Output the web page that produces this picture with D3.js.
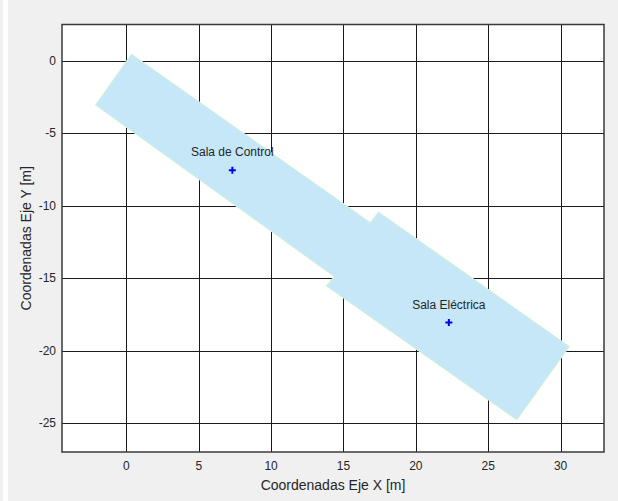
<!DOCTYPE html>
<meta charset="utf-8">
<html>
<head>
  <script src="https://d3js.org/d3.v7.min.js"></script>
  <style>
    body { margin: 0; background: #f0f0f0; }
    svg text { font-family: "Liberation Sans", Arial, Helvetica, sans-serif; fill: #262626; }
  </style>
</head>
<body>
  <div id="chart"></div>
  <script>
    // building outline (metres)
    var outlineX = [0.35, 16.85, 17.42, 30.61, 26.98, 13.81, 14.34, -2.14];
    var outlineY = [0.46, -11.16, -10.43, -19.72, -24.79, -15.54, -14.89, -3.06];

    // rooms
    var roomNames = ["Sala de Control", "Sala Eléctrica"];
    var roomX = [7.32, 22.28];
    var roomY = [-7.55, -18.07];

    var xTicks = [0, 5, 10, 15, 20, 25, 30];
    var yTicks = [-25, -20, -15, -10, -5, 0];

    var W = 618, H = 501;
    var margin = { top: 24.5, right: 14, bottom: 49, left: 62 };

    var svg = d3.select("#chart")
      .append("svg")
      .attr("width", W)
      .attr("height", H);

    svg.append("rect")
      .attr("width", W).attr("height", H)
      .attr("fill", "#f0f0f0");
    svg.append("rect")
      .attr("x", 3).attr("width", 5).attr("height", H)
      .attr("fill", "#ffffff");

    var x = d3.scaleLinear()
      .domain([-4.45, 33])
      .range([margin.left, W - margin.right]);
    var y = d3.scaleLinear()
      .domain([-27, 2.5])
      .range([H - margin.bottom, margin.top]);

    svg.append("rect")
      .attr("x", x(-4.45)).attr("y", y(2.5))
      .attr("width", x(33) - x(-4.45))
      .attr("height", y(-27) - y(2.5))
      .attr("fill", "#ffffff");

    // grid
    svg.append("g")
      .selectAll("line")
      .data(xTicks)
      .join("line")
      .attr("x1", d => Math.round(x(d)) + 0.5).attr("x2", d => Math.round(x(d)) + 0.5)
      .attr("y1", y(-27)).attr("y2", y(2.5))
      .attr("stroke", "#1a1a1a").attr("stroke-width", 1);
    svg.append("g")
      .selectAll("line")
      .data(yTicks)
      .join("line")
      .attr("y1", d => Math.round(y(d)) + 0.5).attr("y2", d => Math.round(y(d)) + 0.5)
      .attr("x1", x(-4.45)).attr("x2", x(33))
      .attr("stroke", "#1a1a1a").attr("stroke-width", 1);

    // outline patch
    var pts = outlineX.map((d, i) => [x(d), y(outlineY[i])]);
    svg.append("polygon")
      .attr("points", pts.map(p => p.join(",")).join(" "))
      .attr("fill", "#c5e7f8")
      .attr("stroke", "#d6f5d3")
      .attr("stroke-width", 1);

    // axes box
    svg.append("rect")
      .attr("x", x(-4.45)).attr("y", y(2.5))
      .attr("width", x(33) - x(-4.45))
      .attr("height", y(-27) - y(2.5))
      .attr("fill", "none")
      .attr("stroke", "#3a3a3a")
      .attr("stroke-width", 1.5);

    // tick labels
    svg.append("g")
      .selectAll("text")
      .data(xTicks)
      .join("text")
      .attr("x", d => x(d))
      .attr("y", y(-27) + 18)
      .attr("text-anchor", "middle")
      .style("font-size", "12px")
      .text(d => d);
    svg.append("g")
      .selectAll("text")
      .data(yTicks)
      .join("text")
      .attr("x", x(-4.45) - 6)
      .attr("y", d => y(d) + 4)
      .attr("text-anchor", "end")
      .style("font-size", "12px")
      .text(d => d);

    // axis labels
    svg.append("text")
      .attr("x", (x(-4.45) + x(33)) / 2)
      .attr("y", 490)
      .attr("text-anchor", "middle")
      .style("font-size", "14px")
      .text("Coordenadas Eje X [m]");
    svg.append("text")
      .attr("transform", "translate(31," + ((y(-27) + y(2.5)) / 2) + ") rotate(-90)")
      .attr("text-anchor", "middle")
      .style("font-size", "14px")
      .text("Coordenadas Eje Y [m]");

    // room markers
    var rooms = roomNames.map((n, i) => ({ name: n, x: roomX[i], y: roomY[i] }));
    var cross = d3.symbol().type(d3.symbolCross).size(28);
    svg.append("g")
      .selectAll("path")
      .data(rooms)
      .join("path")
      .attr("transform", d => "translate(" + x(d.x) + "," + y(d.y) + ")")
      .attr("d", "M-3.5,0H3.5M0,-3.5V3.5")
      .attr("stroke", "#0000ff")
      .attr("stroke-width", 2)
      .attr("fill", "none");
    svg.append("g")
      .selectAll("text")
      .data(rooms)
      .join("text")
      .attr("x", d => x(d.x))
      .attr("y", d => y(d.y) - 14)
      .attr("text-anchor", "middle")
      .style("font-size", "12px")
      .text(d => d.name);
  </script>
</body>
</html>
